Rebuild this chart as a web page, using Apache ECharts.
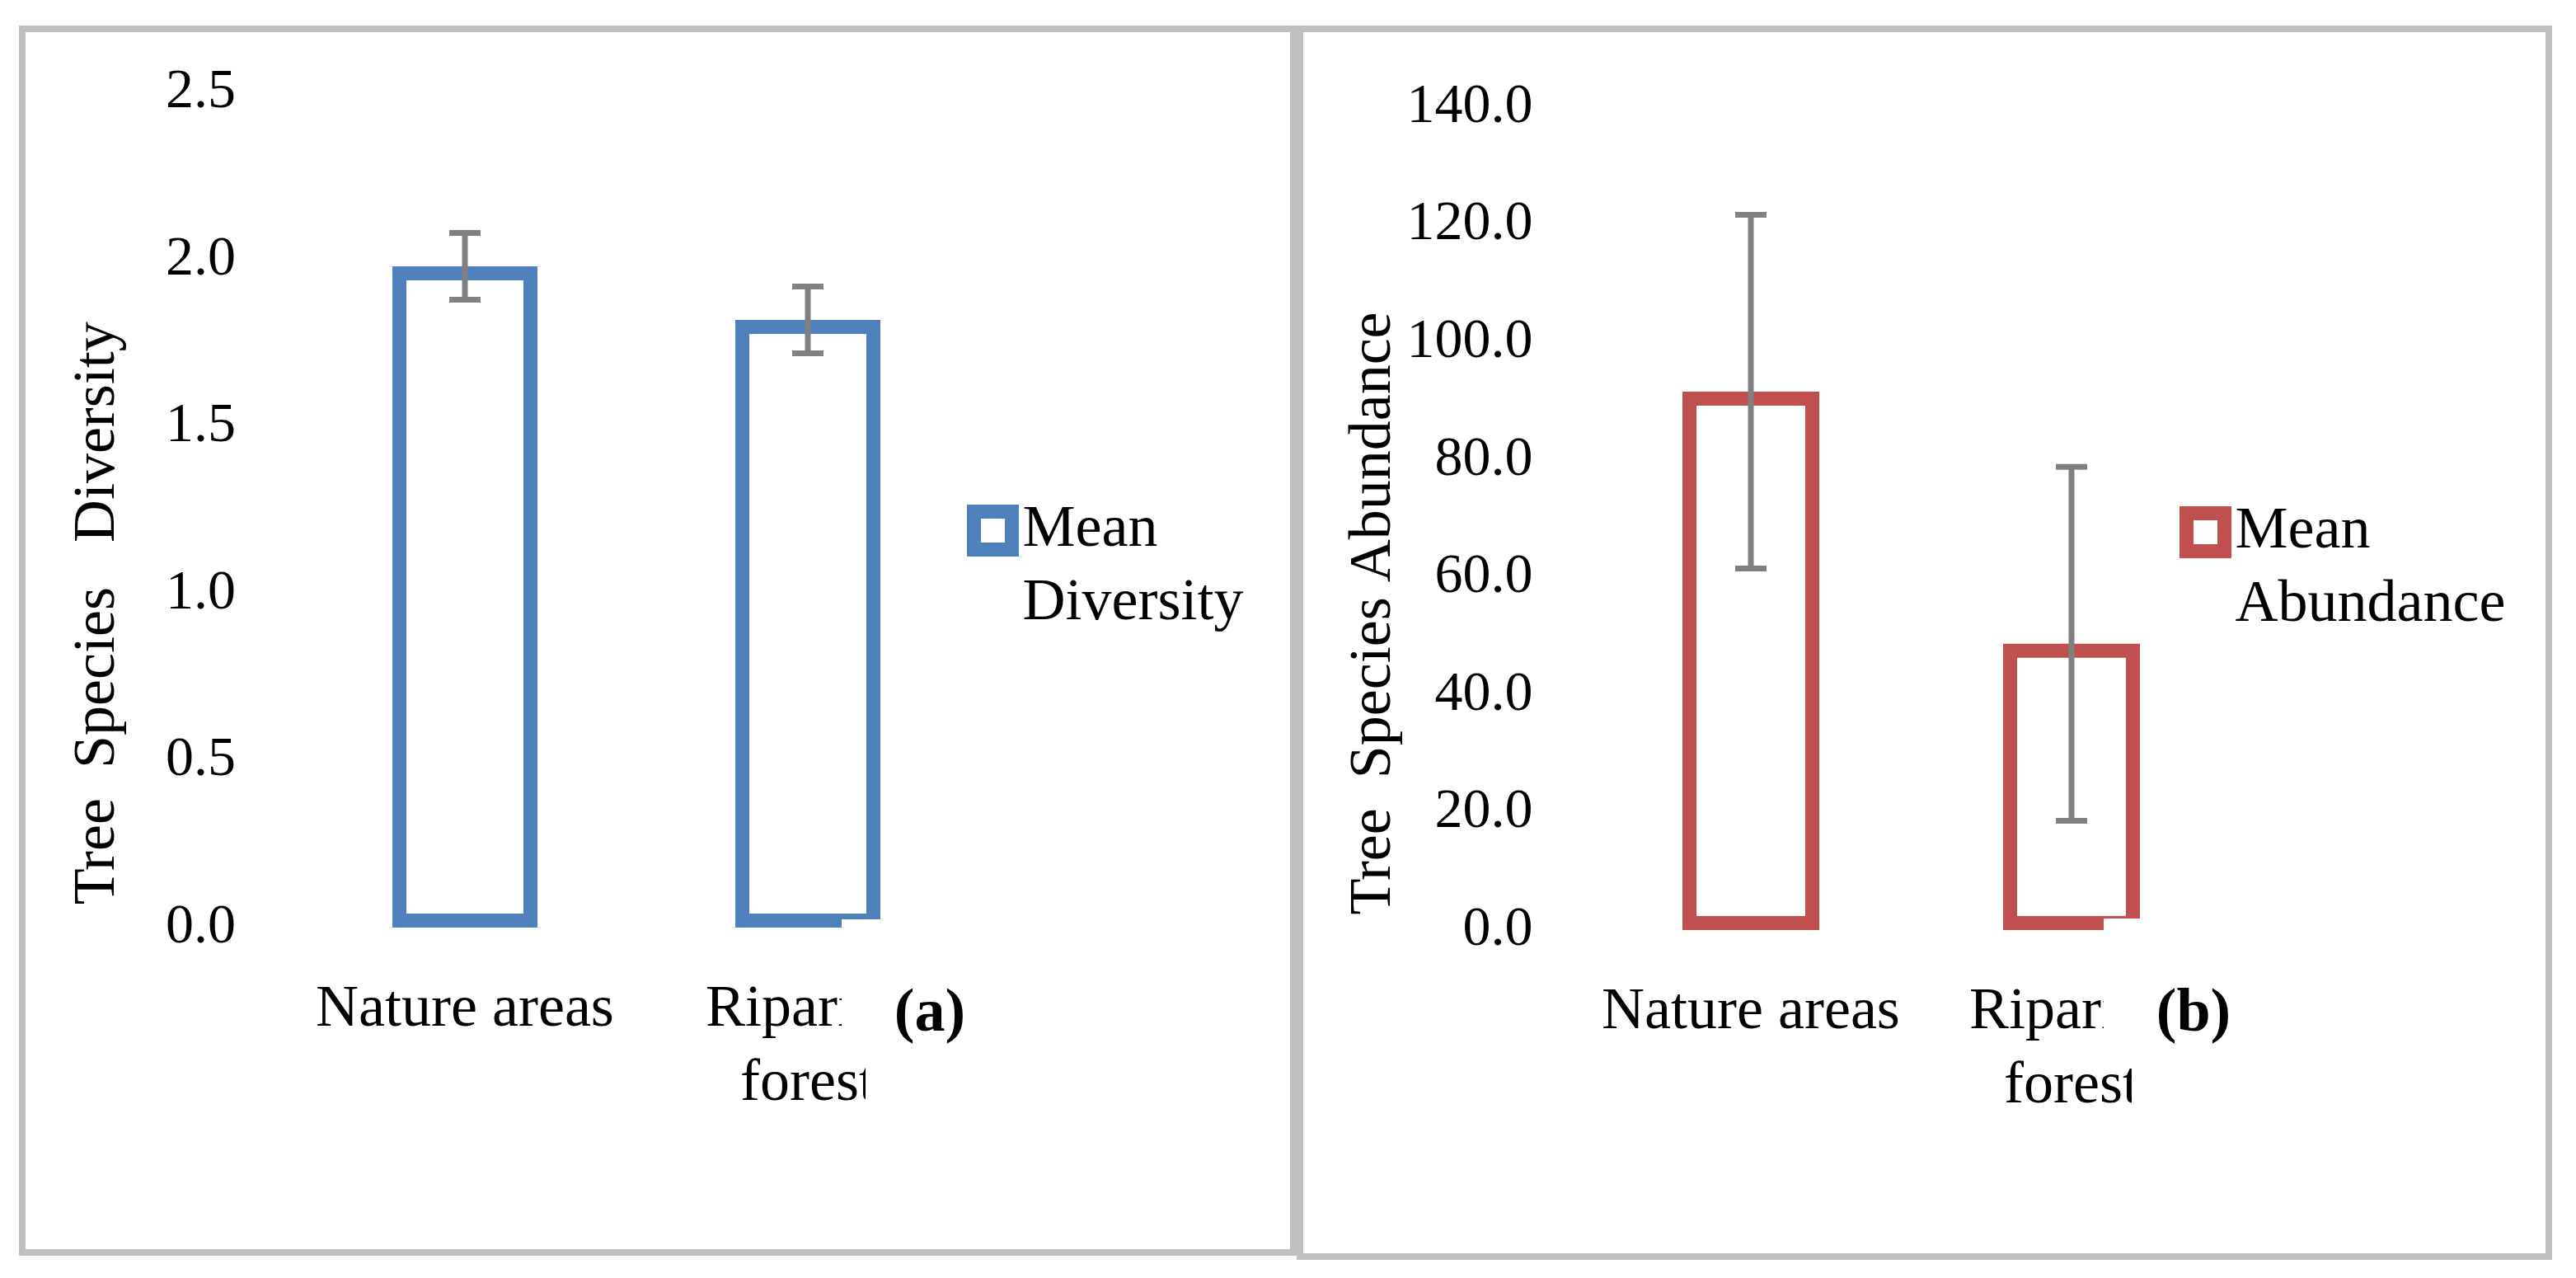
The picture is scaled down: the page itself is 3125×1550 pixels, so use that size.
<!DOCTYPE html>
<html>
<head>
<meta charset="utf-8">
<script src="https://cdn.jsdelivr.net/npm/echarts@6/dist/echarts.min.js"></script>
<style>
    html, body {margin: 0; padding: 0; background: #fff;}
    #chart {width: 3125px; height: 1550px;}
</style>
</head>
<body>
<div id="chart"></div>
<script>
const categories = ['Nature areas', 'Riparian forest'];
const diversityMean = [1.98, 1.82];
const diversityErr = [0.10, 0.10];
const abundanceMean = [91.6, 48.7];
const abundanceErr = [30.1, 30.1];
const diversityTicks = [0, 2.5, 0.5];   // min, max, interval
const abundanceTicks = [0, 140, 20];

const FONT = '"Liberation Serif", "Times New Roman", serif';
const BLUE = '#4f81bd';
const RED = '#c0504d';
const GREY = '#808080';
const BORDER = '#bfbfbf';

function errorBars(params, api) {
    const x = api.value(0);
    const hi = api.coord([x, api.value(2)]);
    const lo = api.coord([x, api.value(1)]);
    const half = 19;
    const style = {stroke: GREY, lineWidth: 7};
    return {
        type: 'group',
        children: [
            {type: 'line', shape: {x1: hi[0], y1: hi[1], x2: lo[0], y2: lo[1]}, style: style},
            {type: 'line', shape: {x1: hi[0] - half, y1: hi[1], x2: hi[0] + half, y2: hi[1]}, style: style},
            {type: 'line', shape: {x1: lo[0] - half, y1: lo[1], x2: lo[0] + half, y2: lo[1]}, style: style}
        ]
    };
}

function errData(mean, err) {
    return mean.map((m, i) => [i, m - err[i], m + err[i]]);
}

function xAxis(gridIndex) {
    return {
        type: 'category',
        gridIndex: gridIndex,
        data: categories,
        axisLine: {show: false},
        axisTick: {show: false},
        axisLabel: {
            margin: 55,
            fontFamily: FONT,
            fontSize: 72,
            lineHeight: 90,
            color: '#000',
            interval: 0,
            formatter: v => v === 'Riparian forest' ? 'Riparian\nforest' : v
        }
    };
}

function yAxis(gridIndex, ticks, name, gap, shift) {
    return {
        type: 'value',
        gridIndex: gridIndex,
        min: ticks[0],
        max: ticks[1],
        interval: ticks[2],
        name: name,
        nameLocation: 'middle',
        nameGap: gap,
        nameTextStyle: {fontFamily: FONT, fontSize: 72, color: '#000', padding: [0, shift, 0, 0]},
        axisLine: {show: false},
        axisTick: {show: false},
        splitLine: {show: false},
        axisLabel: {
            margin: 70,
            fontFamily: FONT,
            fontSize: 68,
            color: '#000',
            formatter: v => v.toFixed(1)
        }
    };
}

function legend(name, color, left, top) {
    return {
        data: [{name: name, icon: 'rect'}],
        left: left,
        top: top,
        padding: 0,
        orient: 'vertical',
        selectedMode: false,
        itemWidth: 46,
        itemHeight: 46,
        itemStyle: {color: '#fff', borderColor: color, borderWidth: 17},
        // blank first line keeps the marker level with "Mean"
        formatter: n => '\n' + n.replace(' ', '\n'),
        textStyle: {
            fontFamily: FONT,
            fontSize: 72,
            lineHeight: 89,
            color: '#000',
            padding: [0, 0, 0, 8]
        }
    };
}

const chart = echarts.init(document.getElementById('chart'));

const option = {
    animation: false,
    backgroundColor: '#fff',
    grid: [
        {left: 356, width: 832, top: 112.5, height: 1012.5},
        {left: 1929.5, width: 778, top: 130, height: 998}
    ],
    xAxis: [xAxis(0), xAxis(1)],
    yAxis: [
        yAxis(0, diversityTicks, 'Tree  Species   Diversity', 201, 250),
        yAxis(1, abundanceTicks, 'Tree  Species Abundance', 225, 230)
    ],
    legend: [
        legend('Mean Diversity', BLUE, 1173, 510),
        legend('Mean Abundance', RED, 2644, 512)
    ],
    series: [
        {
            name: 'Mean Diversity',
            type: 'bar',
            xAxisIndex: 0,
            yAxisIndex: 0,
            barWidth: 176,
            data: diversityMean,
            itemStyle: {color: '#fff', borderColor: BLUE, borderWidth: 17}
        },
        {
            type: 'custom',
            xAxisIndex: 0,
            yAxisIndex: 0,
            renderItem: errorBars,
            data: errData(diversityMean, diversityErr),
            z: 5
        },
        {
            name: 'Mean Abundance',
            type: 'bar',
            xAxisIndex: 1,
            yAxisIndex: 1,
            barWidth: 166,
            data: abundanceMean,
            itemStyle: {color: '#fff', borderColor: RED, borderWidth: 17}
        },
        {
            type: 'custom',
            xAxisIndex: 1,
            yAxisIndex: 1,
            renderItem: errorBars,
            data: errData(abundanceMean, abundanceErr),
            z: 5
        }
    ],
    graphic: [
        // panel frames
        {type: 'rect', shape: {x: 27, y: 35, width: 1542, height: 1484},
            style: {fill: null, stroke: BORDER, lineWidth: 8}, z: 1},
        {type: 'rect', shape: {x: 1577, y: 35, width: 1515, height: 1489},
            style: {fill: null, stroke: BORDER, lineWidth: 8}, z: 1},
        // white text boxes of the panel tags, covering the bar corner and label
        {type: 'rect', shape: {x: 1021, y: 1115, width: 190, height: 160}, style: {fill: '#fff'}, z: 100},
        {type: 'rect', shape: {x: 1050, y: 1275, width: 160, height: 90}, style: {fill: '#fff'}, z: 100},
        {type: 'rect', shape: {x: 2552, y: 1114, width: 190, height: 161}, style: {fill: '#fff'}, z: 100},
        {type: 'rect', shape: {x: 2586, y: 1275, width: 156, height: 90}, style: {fill: '#fff'}, z: 100},
        {type: 'text', x: 1128, y: 1231, z: 101,
            style: {text: '(a)', fill: '#000', font: 'bold 74px ' + FONT, textAlign: 'center', textVerticalAlign: 'middle'}},
        {type: 'text', x: 2661, y: 1231, z: 101,
            style: {text: '(b)', fill: '#000', font: 'bold 74px ' + FONT, textAlign: 'center', textVerticalAlign: 'middle'}}
    ]
};

option && chart.setOption(option);
</script>
</body>
</html>
